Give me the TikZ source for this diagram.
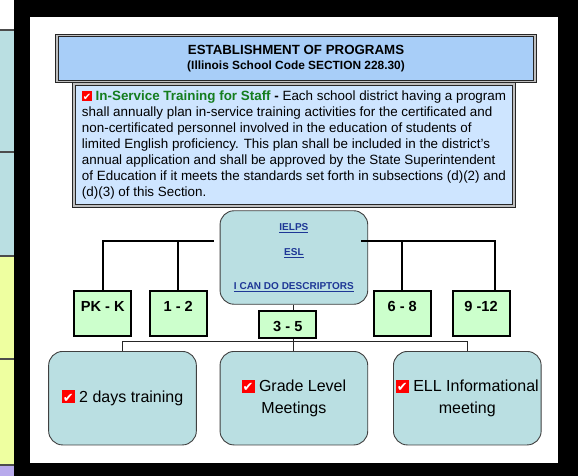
\documentclass[tikz,border=0pt]{standalone}
\usepackage{fontspec}
\setmainfont{Liberation Sans}
\newfontfamily\symfont{DejaVu Sans}
\definecolor{stripcyan}{RGB}{186,223,226}
\definecolor{stripyellow}{RGB}{238,255,160}
\definecolor{strippurple}{RGB}{184,170,236}
\definecolor{tealbox}{RGB}{186,223,226}
\definecolor{gradegreen}{RGB}{204,255,204}
\definecolor{headblue}{RGB}{168,206,248}
\definecolor{bodyblue}{RGB}{206,229,255}
\definecolor{staffgreen}{RGB}{20,125,30}
\definecolor{linkblue}{RGB}{30,55,150}
\newcommand\chkbox[1]{\makebox[0pt][l]{\textcolor{red}{\rule[-0.1ex]{#1}{#1}}}\makebox[#1]{\fontsize{#1}{#1}\selectfont\color{white}\symfont ✔}}

\begin{document}
\begin{tikzpicture}[x=1pt,y=-1pt,
  plate/.style={draw=black!75,line width=0.9pt,fill=tealbox,rounded corners=14pt,
    minimum width=147.7pt,minimum height=93.5pt,inner sep=2pt,align=center,
    font=\fontsize{16}{21.5}\selectfont},
  grade/.style={draw=black,line width=2pt,fill=gradegreen,minimum width=57pt,
    minimum height=45pt,text height=20pt,text depth=25pt,inner sep=0pt,
    font=\fontsize{14.6}{16}\selectfont\bfseries},
  framebox/.style={draw=black!85,line width=0.9pt,double=gray!50,double distance=1.4pt},
  trunk/.style={line width=2pt,black},
  twig/.style={line width=0.9pt,black!85}]
\useasboundingbox (0,0) rectangle (578,476);
\fill[white] (0,0) rectangle (578,476);
\fill[black] (14,0) rectangle (578,476);
\fill[white] (30,17) rectangle (558,463);
\fill[stripcyan] (0,30) rectangle (14,256);
\fill[stripyellow] (0,256) rectangle (14,465);
\fill[strippurple] (0,465) rectangle (14,476);
\foreach \y in {30,152,256,359,465}
  \draw[black!70,line width=1.4pt] (0,\y) -- (14,\y);

\node[framebox,fill=bodyblue,minimum width=440pt,minimum height=122pt,align=left,
  inner sep=0pt,font=\fontsize{13.4}{16}\selectfont] (staff) at (294,145)
  {\chkbox{10pt} \textcolor{staffgreen}{\bfseries In-Service Training for Staff} \textbf{-} Each school district having a program\\
   shall annually plan in-service training activities for the certificated and\\
   non-certificated personnel involved in the education of students of\\
   limited English proficiency. This plan shall be included in the district’s\\
   annual application and shall be approved by the State Superintendent\\
   of Education if it meets the standards set forth in subsections (d)(2) and\\
   (d)(3) of this Section.};
\node[framebox,fill=headblue,minimum width=478pt,minimum height=46pt,align=center,
  inner sep=0pt] (head) at (296,58.5)
  {{\fontsize{13.3}{17}\selectfont\bfseries ESTABLISHMENT OF PROGRAMS}\\[3pt]
   {\fontsize{11.9}{14}\selectfont\bfseries (Illinois School Code SECTION 228.30)}};

\node[plate,font=\fontsize{10}{11}\selectfont\bfseries\color{linkblue}] (ielps) at (293.9,257.5)
  {\underline{IELPS}\\[14pt]\underline{ESL}\\[23pt]\underline{I CAN DO DESCRIPTORS}};
\node[grade] (pkk) at (102.8,313.5) {PK - K};
\node[grade] (g12) at (178.2,313.5) {1 - 2};
\node[grade,minimum height=27pt,text depth=7pt] (g35) at (287.8,324.5) {3 - 5};
\node[grade] (g68) at (402.2,313.5) {6 - 8};
\node[grade] (g912) at (481,313.5) {9 -12};

\node[plate] (train) at (122.5,398.2) {\chkbox{13pt} 2 days training};
\node[plate] (meet) at (293.9,398.2) {\chkbox{13pt} Grade Level\\Meetings};
\node[plate] (info) at (467.3,398.2) {\chkbox{13pt} ELL Informational\\meeting};

\coordinate (lhook) at (214,241);
\coordinate (rhook) at (361,241);
\coordinate (bus) at (293.9,341.7);
\draw[trunk] (pkk.north) |- (lhook);
\draw[trunk] (g12.north) -- (g12.north |- lhook);
\draw[trunk] (rhook) -| (g912.60);
\draw[trunk] (g68.north) -- (g68.north |- rhook);
\draw[twig] (ielps.south) -- (ielps.south |- g35.north);
\draw[twig] (meet.north |- g35.south) -- (meet.north);
\draw[twig] (train.north) |- (bus) -| (info.north);
\end{tikzpicture}
\end{document}
